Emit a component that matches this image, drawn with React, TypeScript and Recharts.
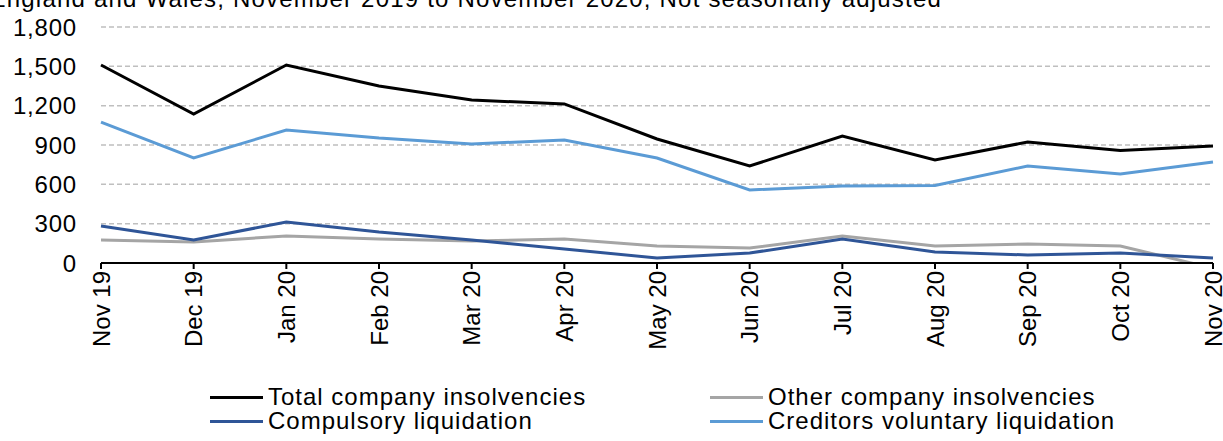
import { LineChart, Line, XAxis, YAxis, CartesianGrid, Legend } from 'recharts';

const months = ['Nov 19', 'Dec 19', 'Jan 20', 'Feb 20', 'Mar 20', 'Apr 20', 'May 20', 'Jun 20', 'Jul 20', 'Aug 20', 'Sep 20', 'Oct 20', 'Nov 20'];
const totalInsolvencies = [1510, 1136, 1510, 1350, 1243, 1213, 946, 740, 969, 786, 923, 858, 892];
const otherInsolvencies = [175, 160, 206, 183, 168, 183, 130, 114, 206, 130, 145, 130, -40];
const compulsory = [282, 175, 313, 236, 175, 107, 38, 76, 183, 84, 61, 76, 38];
const creditorsVoluntary = [1075, 801, 1014, 953, 908, 938, 801, 557, 587, 592, 740, 679, 770];
const yTicks = [0, 300, 600, 900, 1200, 1500, 1800];

const data = months.map((m, i) => ({
  month: m,
  total: totalInsolvencies[i],
  other: otherInsolvencies[i],
  compulsory: compulsory[i],
  cvl: creditorsVoluntary[i],
}));

const FONT = '"Liberation Sans", Arial, sans-serif';

const legendItems = [
  { name: 'Total company insolvencies', color: '#000000', left: 210, top: 12 },
  { name: 'Other company insolvencies', color: '#a5a5a5', left: 710, top: 12 },
  { name: 'Compulsory liquidation', color: '#2f5597', left: 210, top: 36 },
  { name: 'Creditors voluntary liquidation', color: '#5b9bd5', left: 710, top: 36 },
];

function XTick(props: any) {
  const { x, y, payload } = props;
  return (
    <text
      x={x}
      y={y}
      transform={`rotate(-90 ${x} ${y})`}
      textAnchor="end"
      dominantBaseline="central"
      fontSize={24}
      fontFamily={FONT}
      fill="#000"
    >
      {payload.value}
    </text>
  );
}

function ChartLegend() {
  return (
    <div style={{ position: 'relative', width: 1223, height: 56, fontFamily: FONT }}>
      {legendItems.map((item) => (
        <div
          key={item.name}
          style={{ position: 'absolute', left: item.left, top: item.top, display: 'flex', alignItems: 'center', transform: 'translateY(-50%)' }}
        >
          <div style={{ width: 53, height: 3, background: item.color, marginRight: 5 }} />
          <span style={{ fontSize: 24, lineHeight: '22px', letterSpacing: 1, color: '#000', whiteSpace: 'nowrap' }}>{item.name}</span>
        </div>
      ))}
    </div>
  );
}

export default function App() {
  return (
    <div style={{ position: 'absolute', left: 0, top: 0, width: 1223, height: 441, background: '#fff', overflow: 'hidden' }}>
      <LineChart width={1223} height={441} data={data} margin={{ top: 27, right: 10, left: 0, bottom: 0 }}>
        <text x={942} y={7} textAnchor="end" fontSize={24} letterSpacing={1.2} fontFamily={FONT} fill="#000">
          England and Wales, November 2019 to November 2020, Not seasonally adjusted
        </text>
        <CartesianGrid vertical={false} stroke="#bfbfbf" strokeDasharray="5 3" strokeWidth={1.5} />
        <XAxis
          dataKey="month"
          interval={0}
          height={122}
          axisLine={{ stroke: '#000', strokeWidth: 2 }}
          tickLine={{ stroke: '#000', strokeWidth: 2 }}
          tickSize={6}
          tick={<XTick />}
        />
        <YAxis
          width={101}
          domain={[0, 1800]}
          ticks={yTicks}
          allowDataOverflow
          axisLine={false}
          tickLine={false}
          tickSize={0}
          tickMargin={24}
          tickFormatter={(v: number) => v.toLocaleString('en-GB')}
          tick={{ fontSize: 24, fontFamily: FONT, fill: '#000', letterSpacing: 0.8 }}
        />
        <Legend verticalAlign="bottom" content={<ChartLegend />} wrapperStyle={{ left: 0, width: 1223 }} />
        <Line type="linear" dataKey="total" stroke="#000000" strokeWidth={3} dot={false} isAnimationActive={false} />
        <Line type="linear" dataKey="other" stroke="#a5a5a5" strokeWidth={3} dot={false} isAnimationActive={false} />
        <Line type="linear" dataKey="compulsory" stroke="#2f5597" strokeWidth={3} dot={false} isAnimationActive={false} />
        <Line type="linear" dataKey="cvl" stroke="#5b9bd5" strokeWidth={3} dot={false} isAnimationActive={false} />
      </LineChart>
    </div>
  );
}
